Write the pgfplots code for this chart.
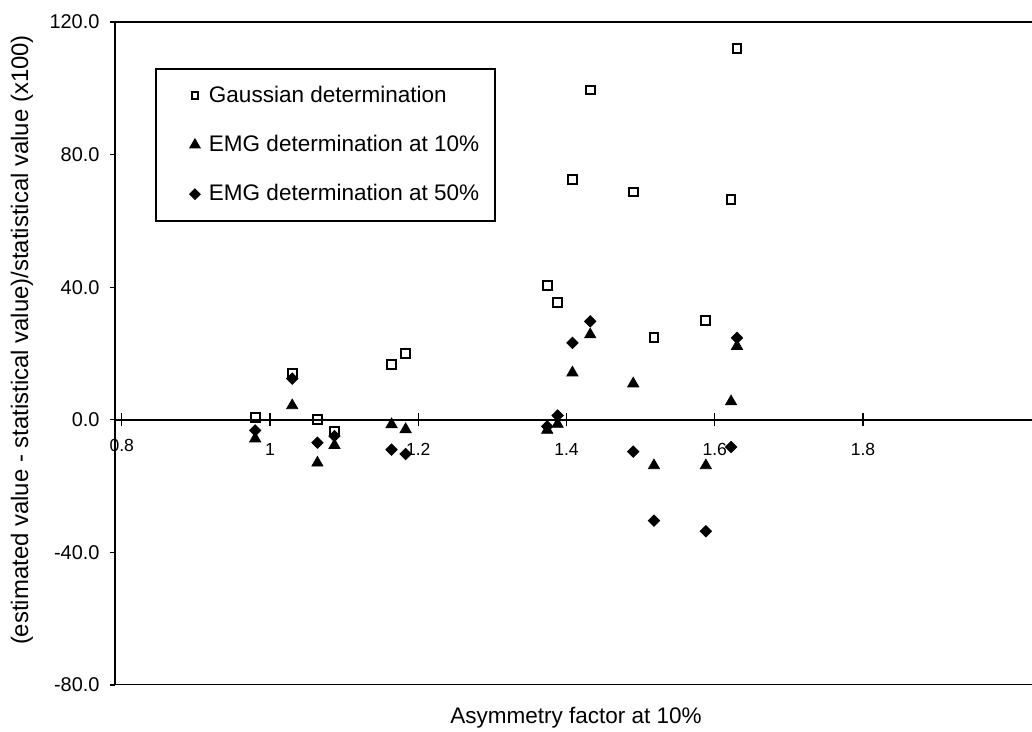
\documentclass[border=0pt]{standalone}
\usepackage{pgfplots}
\usepackage{pgfplotstable}
\pgfplotsset{compat=1.18}
\usepackage{fontspec}
\setmainfont{Liberation Sans}

% legend marks drawn a little smaller than the plot marks, with room around them
\pgfplotsset{legmark/.style={legend image code/.code={%
    \path (0bp,0bp) (17.5bp,0bp);
    \draw[##1, mark size=#1] plot coordinates {(13bp,0bp)};}}}

% asymmetry factor, then the three relative errors (x100)
\pgfplotstableread{
x      gauss  emg10  emg50
0.980   0.6   -5.7   -3.2
1.030  13.9    4.3   12.4
1.064   0.0  -13.0   -6.9
1.087  -3.5   -7.7   -4.9
1.164  16.7   -1.4   -9.0
1.183  20.1   -2.9  -10.3
1.374  40.5   -3.1   -2.0
1.388  35.4   -1.3    1.3
1.408  72.5   14.2   23.2
1.432  99.5   25.7   29.7
1.490  68.7   10.9   -9.6
1.518  24.8  -13.8  -30.4
1.588  29.9  -13.8  -33.6
1.622  66.5    5.5   -8.2
1.630 111.9   22.2   24.7
}\datatable

\begin{document}
\begin{tikzpicture}
\begin{axis}[
    at={(0,0)}, anchor=south west,
    scale only axis,
    width=458.5bp, height=331.5bp,
    xmin=0.7909, xmax=2.028,
    ymin=-80, ymax=120,
    axis x line=middle, axis y line=left,
    axis line style={-, line width=1bp},
    hide obscured x ticks=false, hide obscured y ticks=false,
    xtick={1,1.2,1.4,1.6,1.8},
    extra x ticks={0.8},
    extra x tick style={major tick length=0pt},
    ytick={-80,-40,0,40,80,120},
    xtick align=center, ytick align=outside,
    x tick style={black, line width=0.6bp, /pgfplots/major tick length=6.5bp},
    y tick style={black, line width=0.6bp, /pgfplots/major tick length=2.5bp},
    /pgf/number format/assume math mode=true,
    yticklabel={\pgfmathprintnumber[fixed,fixed zerofill,precision=1]{\tick}},
    xticklabel style={font=\fontsize{8.8}{10}\selectfont, yshift=-6bp},
    yticklabel style={font=\fontsize{10}{12}\selectfont},
    legend style={at={(rel axis cs:0.0436,0.9306)}, anchor=north west,
        draw=black, line width=1bp, inner xsep=6bp, inner ysep=6.5bp,
        row sep=11bp, font=\fontsize{11.3}{13}\selectfont},
    legend cell align=left,
]
\addplot[only marks, black, mark=square, mark size=2.2bp,
    mark options={line width=1bp, fill=white}, legmark=1.7bp]
    table[x=x, y=gauss] {\datatable};
\addlegendentry{Gaussian determination}
\addplot[only marks, black, mark=triangle*, mark size=3.2bp, legmark=2.5bp]
    table[x=x, y=emg10] {\datatable};
\addlegendentry{EMG determination at 10\%}
\addplot[only marks, black, mark=square*, mark size=2bp,
    mark options={rotate=45}, legmark=1.6bp]
    table[x=x, y=emg50] {\datatable};
\addlegendentry{EMG determination at 50\%}
\draw[line width=1bp] (rel axis cs:0,1) -- (rel axis cs:1,1);
\draw[line width=1bp] (rel axis cs:0,0) -- (rel axis cs:1,0);
\end{axis}
\node[rotate=90, font=\fontsize{12}{14}\selectfont] at (-46.5bp,172.5bp)
    {(estimated value - statistical value)/statistical value (x100)};
\node[font=\fontsize{11.3}{13}\selectfont] at (230.5bp,-16.5bp) {Asymmetry factor at 10\%};
\pgfresetboundingbox
\path[use as bounding box] (-57.5bp,-23.5bp) rectangle (458.5bp,342.5bp);
\end{tikzpicture}
\end{document}
